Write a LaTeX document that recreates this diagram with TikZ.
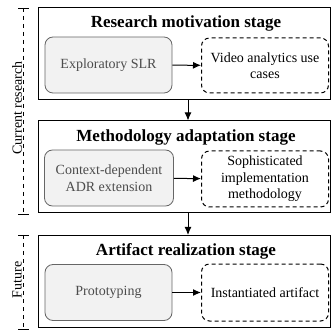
\documentclass[tikz,border=0pt]{standalone}
\usepackage{fontspec}
\setmainfont{Liberation Serif}
\usetikzlibrary{arrows.meta}
\begin{document}
\begin{tikzpicture}[x=1pt,y=-1pt,
    stage/.style={draw, line width=1pt, minimum width=292.5pt, minimum height=92pt, inner sep=0pt},
    stagetitle/.style={anchor=base, font=\fontsize{17}{20}\selectfont\bfseries},
    activity/.style={draw=gray!80!black, fill=gray!10, line width=0.8pt, rounded corners=8pt,
      minimum width=127pt, minimum height=56pt, align=center, text=black!70,
      font=\fontsize{14}{16.5}\selectfont},
    outcome/.style={draw, dashed, dash pattern=on 4pt off 3pt, line width=1pt, rounded corners=8pt,
      minimum width=127pt, minimum height=55pt, align=center, inner sep=2pt,
      font=\fontsize{14}{16.5}\selectfont},
    phase/.style={rotate=90, fill=white, inner sep=1pt, font=\fontsize{14}{16}\selectfont},
    flow/.style={-{Latex[length=8pt,width=7pt]}, line width=1pt}]
  \useasboundingbox (0,0) rectangle (332,331);
  % stages
  \draw
    (184.25,54) node[stage] (s1){}
    (184.25,167) node[stage] (s2){}
    (184.25,281.5) node[stage] (s3){};
  \draw
    (186,28) node[stagetitle] (t1){Research motivation stage}
    (186,142) node[stagetitle] (t2){Methodology adaptation stage}
    (186,255) node[stagetitle] (t3){Artifact realization stage};
  % activities and outcomes
  \draw
    (108.5,65) node[activity] (a1){Exploratory SLR}
    (109,178) node[activity, minimum width=129pt] (a2){Context-dependent\\ADR extension}
    (108.5,292.5) node[activity] (a3){Prototyping}
    (265,65.5) node[outcome] (o1){Video analytics use\\cases}
    (265,179) node[outcome, minimum height=56pt] (o2){Sophisticated\\implementation\\methodology}
    (265,292.5) node[outcome, minimum height=57pt] (o3){Instantiated artifact};
  \begin{scope}[flow]
    \draw (a1) to (o1);
    \draw (a2) to (o2);
    \draw (a3) to (o3);
    \draw ([xshift=3.75pt]s1.south) to ([xshift=3.75pt]s2.north);
    \draw ([xshift=3.75pt]s2.south) to ([xshift=3.75pt]s3.north);
  \end{scope}
  % phase brackets
  \coordinate (c1) at (23,8);
  \coordinate (c2) at (23,214);
  \coordinate (f1) at (23,235);
  \coordinate (f2) at (23,329);
  \begin{scope}[line width=0.8pt]
    \draw[dash pattern=on 4pt off 4pt] (c1) -- (c2);
    \draw[dash pattern=on 4pt off 4pt] (f1) -- (f2);
    \draw ([xshift=-5pt]c1) -- ([xshift=6pt]c1);
    \draw ([xshift=-5pt]c2) -- ([xshift=6pt]c2);
    \draw ([xshift=-5pt]f1) -- ([xshift=6pt]f1);
    \draw ([xshift=-5pt]f2) -- ([xshift=6pt]f2);
  \end{scope}
  \node[phase] (p1) at (17,108) {Current research};
  \node[phase] (p2) at (17,280) {Future};
\end{tikzpicture}
\end{document}
